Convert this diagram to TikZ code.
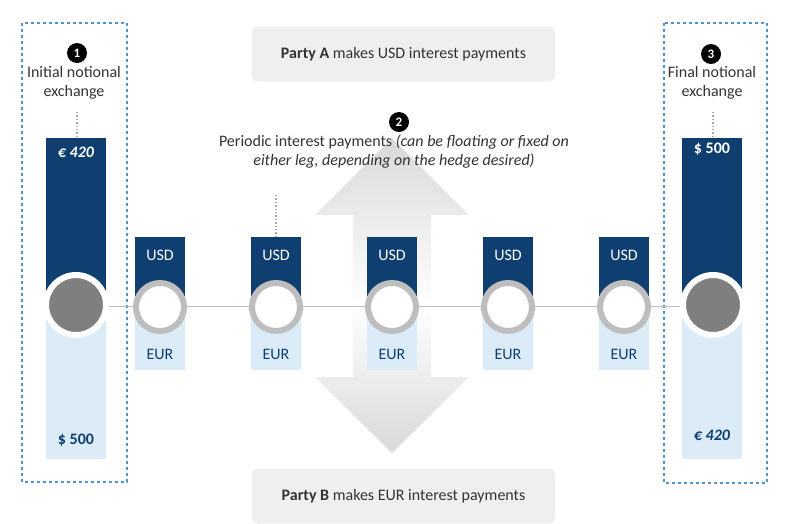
\documentclass[tikz,border=0pt]{standalone}
\usepackage{fontspec}
\setmainfont{Carlito}
\usetikzlibrary{calc}
\definecolor{dblue}{HTML}{0E3F70}
\definecolor{lblue}{HTML}{DCEBF8}
\definecolor{boxline}{HTML}{4F93CE}
\definecolor{txt}{HTML}{333333}
\definecolor{ringc}{HTML}{BEBEBE}
\definecolor{coin}{HTML}{7F7F7F}
\definecolor{panel}{HTML}{EFEFEF}
\definecolor{arrowc}{HTML}{D8DAD8}
\begin{document}
\begin{tikzpicture}[x=1pt,y=-1pt,
  lbl/.style={font=\fontsize{16}{19}\selectfont, text=txt, align=center, inner sep=0pt},
  usd/.style={font=\fontsize{16}{19}\selectfont, text=white, inner sep=0pt},
  eur/.style={font=\fontsize{16}{19}\selectfont, text=dblue, inner sep=0pt},
  badge/.style={circle, fill=black, text=white, inner sep=0pt, minimum size=20pt, font=\fontsize{13}{14}\selectfont\bfseries},
  smallring/.style={circle, draw=ringc, line width=6pt, fill=white, minimum size=48pt, inner sep=0pt},
  bigcoin/.style={circle, fill=coin, draw=white, line width=6pt, minimum size=60pt, inner sep=0pt},
  dashbox/.style={draw=boxline, dashed, line width=1.1pt},
  dotline/.style={draw=gray!70, dotted, line width=1.4pt},
  panelbox/.style={fill=panel, rounded corners=6pt, minimum width=303pt, minimum height=55pt, font=\fontsize{16}{19}\selectfont, text=txt}
]
\useasboundingbox (0,0) rectangle (800,523);
\fill[white] (0,0) rectangle (800,523);

% panels
\node[panelbox] (pa) at (403.5,54) {\textbf{Party A} makes USD interest payments};
\node[panelbox] (pb) at (403.5,496) {\textbf{Party B} makes EUR interest payments};

% big arrows
\shade[top color=arrowc, bottom color=white] (392,138) -- (469,215) -- (431,215) -- (431,305) -- (353,305) -- (353,215) -- (315,215) -- cycle;
\shade[top color=white, bottom color=arrowc] (353,305) -- (353,377) -- (315,377) -- (392,453) -- (469,377) -- (431,377) -- (431,305) -- cycle;

% dashed boxes
\draw[dashbox] (22,23) rectangle (127,482);
\draw[dashbox] (664,23) rectangle (767,483);

% big bars
\fill[dblue] (46,138) rectangle (106,305);
\fill[lblue] (46,305) rectangle (106,459);
\fill[dblue] (682,138) rectangle (742,305);
\fill[lblue] (682,305) rectangle (742,459);

% horizontal line
\coordinate (hl) at (76,306);
\coordinate (hr) at (713,306);
\draw[ringc, line width=1pt] (hl) -- (hr);

% small columns
\foreach \i/\x in {1/160,2/276,3/392,4/508,5/624} {
  \fill[lblue] (\x-25,307) rectangle (\x+25,370);
  \fill[dblue] (\x-25,237) rectangle (\x+25,307);
  \node[usd] (usd\i) at (\x,255) {USD};
  \node[eur] (eur\i) at (\x,354) {EUR};
  \node[smallring] (c\i) at (\x,307) {};
}

% big coins
\node[bigcoin] (cl) at (76,305) {};
\node[bigcoin] (cr) at (713,305) {};

% amounts
\node[usd, font=\fontsize{16}{19}\selectfont\bfseries\itshape] (l1) at (76,152) {€ 420};
\node[eur, font=\fontsize{16}{19}\selectfont\bfseries] (l2) at (76,440) {\$ 500};
\node[usd, font=\fontsize{16}{19}\selectfont\bfseries] (r1) at (712,149) {\$ 500};
\node[eur, font=\fontsize{16}{19}\selectfont\bfseries\itshape] (r2) at (712,435) {€ 420};

% badges and labels
\node[badge] (b1) at (77,53) {1};
\node[lbl] (t1) at (74,83) {Initial notional\\exchange};
\node[badge] (b3) at (711,54) {3};
\node[lbl] (t3) at (712,83) {Final notional\\exchange};
\node[badge] (b2) at (399,122) {2};
\node[lbl] (t2) at (394,152) {Periodic interest payments \textit{(can be floating or fixed on}\\\textit{either leg, depending on the hedge desired)}};

% dotted leaders
\coordinate (d1) at (77,112);
\coordinate (d1b) at (77,138);
\coordinate (d3) at (713,112);
\coordinate (d3b) at (713,138);
\coordinate (d2) at (276,195);
\coordinate (d2b) at (276,237);
\draw[dotline] (d1) -- (d1b);
\draw[dotline] (d3) -- (d3b);
\draw[dotline] (d2) -- (d2b);
\end{tikzpicture}
\end{document}
